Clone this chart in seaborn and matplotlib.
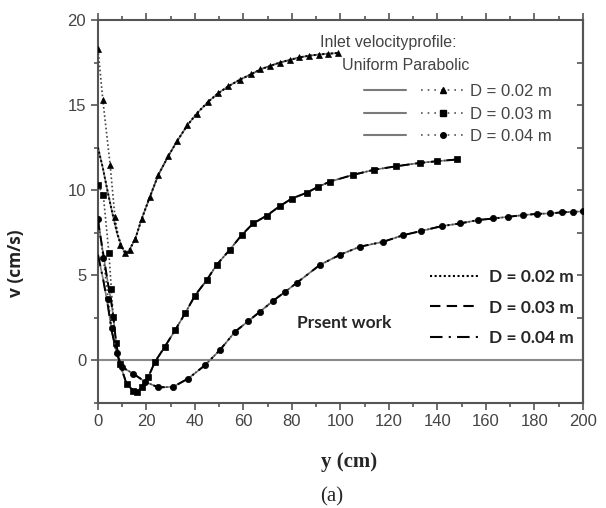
import matplotlib
matplotlib.use("Agg")
import matplotlib.pyplot as plt
from matplotlib.lines import Line2D
from matplotlib.legend_handler import HandlerTuple
from matplotlib.ticker import MultipleLocator, NullFormatter
import seaborn as sns

# --- data (y in cm, v in cm/s) ---
# D = 0.02 m, parabolic inlet (triangles)
d02_x = [0, 2, 5, 7, 9, 11, 13, 15.3, 18, 21.4, 24.9, 29, 32.7, 36.8, 40.7, 45.5,
         49.6, 53.7, 58.6, 63, 67, 71, 75, 79, 83, 87, 91, 95, 99]
d02_v = [18.3, 15.3, 11.5, 8.4, 6.8, 6.3, 6.5, 7.1, 8.3, 9.6, 10.9, 12.0, 12.9, 13.8, 14.5, 15.2,
         15.7, 16.1, 16.5, 16.8, 17.1, 17.3, 17.5, 17.65, 17.8, 17.9, 17.97, 18.02, 18.06]
# uniform inlet, first part (joins parabolic curve afterwards)
d02_uni_x = [0, 2, 4, 6, 8, 10, 11.5]
d02_uni_v = [12.5, 11.3, 9.9, 8.6, 7.4, 6.6, 6.25]

# D = 0.03 m (squares)
d03_x = [0, 2.2, 4.5, 5.5, 6.3, 7.5, 9, 11.8, 14.6, 16, 18, 20.7, 23.5, 27.6, 31.8, 35.9,
         40, 44.8, 48.9, 54.4, 59.2, 64, 69.6, 75, 79.9, 86, 90.9, 95.7, 105.3, 114, 123,
         132.8, 140, 148]
d03_v = [10.3, 9.7, 6.3, 4.2, 2.55, 1.0, -0.2, -1.4, -1.8, -1.85, -1.57, -1.0, -0.1, 0.8, 1.76, 2.75,
         3.8, 4.7, 5.6, 6.5, 7.35, 8.04, 8.5, 9.06, 9.5, 9.84, 10.2, 10.5, 10.9, 11.2, 11.4,
         11.6, 11.7, 11.8]
d03_uni_x = [0, 2, 4, 5.5]
d03_uni_v = [8.2, 6.4, 4.6, 3.4]

# D = 0.04 m (circles)
d04_x = [0, 2.2, 4.2, 5.6, 7.7, 9.8, 14.6, 19.4, 24.9, 31, 37.2, 44.1, 50.3, 56.5, 62,
         66.8, 72.3, 77, 82, 91.5, 99.8, 108, 117.6, 125.9, 133.4, 141.7, 149.3, 156.8,
         163, 169.2, 175.4, 180.9, 186.4, 191.2, 196, 200]
d04_v = [8.3, 6.0, 3.6, 1.9, 0.4, -0.4, -0.8, -1.27, -1.6, -1.57, -1.08, -0.3, 0.6, 1.67, 2.3,
         2.85, 3.5, 4.0, 4.55, 5.6, 6.2, 6.67, 6.96, 7.35, 7.6, 7.88, 8.04, 8.24,
         8.33, 8.43, 8.53, 8.6, 8.63, 8.69, 8.72, 8.75]
d04_uni_x = [0, 2.2, 4.2, 5.6]
d04_uni_v = [6.2, 4.7, 3.1, 1.76]

labels = ["D = 0.02 m", "D = 0.03 m", "D = 0.04 m"]
markers = ["^", "s", "o"]
present_styles = [(0, (1, 1.2)), (0, (5, 3)), (0, (6, 3, 1, 3))]

sns.set_style("ticks")
plt.rcParams["font.family"] = ["Liberation Sans", "DejaVu Sans"]

fig = plt.figure(figsize=(6.06, 5.08), dpi=100)
ax = fig.add_axes([0.1617, 0.2073, 0.8003, 0.7533])

spine_c = "#555555"
ax.axhline(0, color="#8a8a8a", lw=1.5, zorder=1)

curves = [(d02_x, d02_v, d02_uni_x, d02_uni_v, 11.5),
          (d03_x, d03_v, d03_uni_x, d03_uni_v, 5.5),
          (d04_x, d04_v, d04_uni_x, d04_uni_v, 5.6)]

for i, (px, pv, ux, uv, join) in enumerate(curves):
    tail_x = [x for x in px if x > join]
    tail_v = [v for x, v in zip(px, pv) if x > join]
    uni_x = ux + tail_x
    uni_v = uv + tail_v
    # uniform inlet (reference), solid gray
    sns.lineplot(x=uni_x, y=uni_v, ax=ax, sort=False, estimator=None,
                 color="#7a7a7a", lw=1.2, zorder=2)
    # parabolic inlet (reference), dotted with markers
    sns.lineplot(x=px, y=pv, ax=ax, sort=False, estimator=None,
                 color="#444444", lw=1.2, linestyle=(0, (1, 1.5)),
                 marker=markers[i], markersize=4.5, mec="black", mfc="black",
                 mew=0.5, zorder=3)
    # present work, black
    sns.lineplot(x=uni_x, y=uni_v, ax=ax, sort=False, estimator=None,
                 color="black", lw=1.4, linestyle=present_styles[i], zorder=4)

ax.set_xlim(0, 200)
ax.set_ylim(-2.5, 20)
ax.xaxis.set_major_locator(MultipleLocator(20))
ax.xaxis.set_minor_locator(MultipleLocator(10))
ax.yaxis.set_major_locator(MultipleLocator(5))
ax.yaxis.set_minor_locator(MultipleLocator(2.5))
ax.tick_params(axis="both", which="major", direction="out", length=5, width=1.2,
               color=spine_c, labelsize=12, labelcolor="#444444")
ax.tick_params(axis="both", which="minor", direction="out", length=3, width=1.2,
               color=spine_c)
ax.tick_params(axis="x", which="both", top=True)
ax.set_yticks([0, 5, 10, 15, 20])

sec = ax.secondary_yaxis("right")
sec.yaxis.set_major_locator(MultipleLocator(2.5))
sec.yaxis.set_major_formatter(NullFormatter())
sec.tick_params(direction="in", length=4, width=1.2, color=spine_c)
sec.spines["right"].set_color(spine_c)
sec.spines["right"].set_linewidth(1.5)

for s in ax.spines.values():
    s.set_color(spine_c)
    s.set_linewidth(1.5)

ax.set_xlabel("")
ax.set_ylabel("v (cm/s)", fontsize=12.5, fontweight="bold", family="Open Sans",
              color="#222222")
ax.yaxis.set_label_coords(-0.15, 0.365)
fig.text(0.576, 0.09, "y (cm)", ha="center", va="center", fontsize=15,
         fontweight="bold", family="Liberation Serif")
fig.text(0.548, 0.022, "(a)", ha="center", va="center", fontsize=15,
         family="Liberation Serif")

# reference legend (uniform / parabolic)
ax.text(0.458, 0.9425, "Inlet velocityprofile:", transform=ax.transAxes,
        fontsize=11.5, color="#444444", va="center", ha="left")
ax.text(0.503, 0.882, "Uniform Parabolic", transform=ax.transAxes,
        fontsize=11.5, color="#444444", va="center", ha="left")
handles1 = []
for m in markers:
    h_uni = Line2D([], [], color="#7a7a7a", lw=1.5)
    h_par = Line2D([], [], color="#555555", lw=1.2, linestyle=(0, (1, 3)),
                   marker=m, markersize=4, mfc="black", mec="black")
    handles1.append((h_uni, h_par))
leg1 = ax.legend(handles1, labels, handler_map={tuple: HandlerTuple(ndivide=None, pad=0.9)},
                 loc="upper left", bbox_to_anchor=(0.548, 0.832), frameon=False,
                 fontsize=12, handlelength=6.0, handletextpad=0.4, labelspacing=0.45,
                 borderpad=0, borderaxespad=0)
for t in leg1.get_texts():
    t.set_color("#444444")
ax.add_artist(leg1)

# present work legend
handles2 = [Line2D([], [], color="black", lw=1.5, linestyle=st) for st in present_styles]
leg2 = ax.legend(handles2, labels, loc="upper left", bbox_to_anchor=(0.684, 0.35),
                 frameon=False, prop={"family": "Lato", "weight": "bold", "size": 12.5},
                 handlelength=2.8, handletextpad=0.6, labelspacing=0.85,
                 borderpad=0, borderaxespad=0)
ax.text(0.41, 0.2083, "Prsent work", transform=ax.transAxes, fontsize=12.5,
        family="Lato", fontweight="bold", va="center", ha="left")

fig.savefig("out.png", dpi=100)
